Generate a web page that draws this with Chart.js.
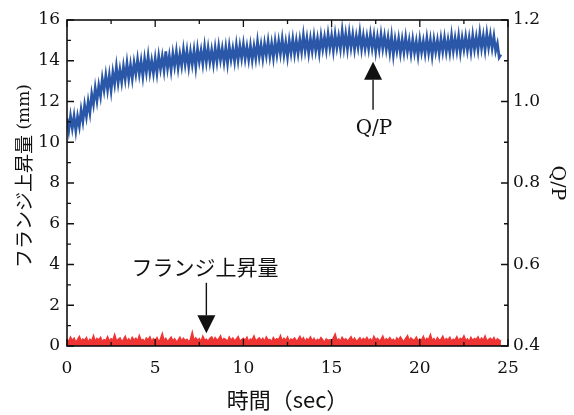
<!DOCTYPE html>
<html lang="ja">
<head>
<meta charset="UTF-8">
<title>フランジ上昇量 と Q/P</title>
<script src="https://cdn.jsdelivr.net/npm/chart.js"></script>
<style>
  html, body { margin: 0; padding: 0; background: #fff; }
  #wrap { width: 574px; height: 415px; }
</style>
</head>
<body>
<div id="wrap"><canvas id="chart" width="574" height="415"></canvas></div>
<script>
// sampled every 0.1 s from 0 to 24.6 s
const sampleStep = 0.1;

// Q/P (right axis)
const blueQP = [
  0.959, 0.929, 0.964, 0.934, 0.964, 0.928, 0.963, 0.939, 0.979, 0.951,
  0.991, 0.963, 1.000, 0.972, 1.018, 0.993, 1.033, 1.002, 1.039, 1.013,
  1.056, 1.028, 1.064, 1.029, 1.064, 1.027, 1.071, 1.043, 1.085, 1.046,
  1.078, 1.048, 1.086, 1.055, 1.094, 1.056, 1.090, 1.056, 1.095, 1.068,
  1.103, 1.068, 1.099, 1.062, 1.104, 1.072, 1.111, 1.071, 1.100, 1.069,
  1.105, 1.070, 1.111, 1.080, 1.110, 1.077, 1.123, 1.082, 1.112, 1.077,
  1.117, 1.087, 1.122, 1.083, 1.116, 1.088, 1.127, 1.092, 1.124, 1.086,
  1.122, 1.091, 1.125, 1.085, 1.129, 1.098, 1.125, 1.093, 1.134, 1.097,
  1.131, 1.097, 1.126, 1.093, 1.131, 1.098, 1.135, 1.102, 1.130, 1.097,
  1.132, 1.094, 1.135, 1.103, 1.130, 1.099, 1.138, 1.102, 1.136, 1.106,
  1.140, 1.105, 1.134, 1.103, 1.137, 1.102, 1.135, 1.106, 1.147, 1.110,
  1.139, 1.106, 1.142, 1.113, 1.147, 1.111, 1.142, 1.108, 1.147, 1.115,
  1.148, 1.117, 1.153, 1.115, 1.145, 1.110, 1.149, 1.119, 1.153, 1.117,
  1.149, 1.118, 1.152, 1.122, 1.162, 1.125, 1.155, 1.119, 1.154, 1.124,
  1.159, 1.125, 1.154, 1.120, 1.160, 1.129, 1.158, 1.127, 1.165, 1.132,
  1.161, 1.125, 1.164, 1.132, 1.160, 1.130, 1.173, 1.132, 1.165, 1.129,
  1.168, 1.133, 1.164, 1.128, 1.160, 1.133, 1.169, 1.129, 1.161, 1.130,
  1.159, 1.129, 1.164, 1.131, 1.161, 1.123, 1.158, 1.128, 1.164, 1.130,
  1.160, 1.128, 1.157, 1.121, 1.159, 1.115, 1.152, 1.124, 1.154, 1.119,
  1.152, 1.121, 1.157, 1.123, 1.150, 1.117, 1.152, 1.120, 1.147, 1.113,
  1.152, 1.121, 1.148, 1.118, 1.155, 1.120, 1.151, 1.113, 1.151, 1.122,
  1.150, 1.118, 1.154, 1.123, 1.156, 1.122, 1.151, 1.121, 1.161, 1.124,
  1.155, 1.125, 1.160, 1.121, 1.156, 1.128, 1.159, 1.126, 1.156, 1.123,
  1.162, 1.128, 1.158, 1.127, 1.167, 1.131, 1.161, 1.127, 1.166, 1.133,
  1.163, 1.131, 1.160, 1.124, 1.142, 1.108, 1.115
];

// フランジ上昇量 (mm, left axis)
const flangeMM = [
  0.32, 0.18, 0.41, 0.25, 0.36, 0.15, 0.29, 0.44, 0.21, 0.33,
  0.27, 0.39, 0.16, 0.31, 0.22, 0.47, 0.19, 0.35, 0.28, 0.40,
  0.17, 0.30, 0.24, 0.43, 0.20, 0.34, 0.26, 0.52, 0.23, 0.31,
  0.38, 0.19, 0.29, 0.45, 0.22, 0.33, 0.18, 0.40, 0.27, 0.36,
  0.21, 0.48, 0.25, 0.30, 0.16, 0.37, 0.28, 0.42, 0.20, 0.34,
  0.26, 0.39, 0.18, 0.32, 0.57, 0.23, 0.35, 0.19, 0.30, 0.41,
  0.24, 0.33, 0.17, 0.28, 0.40, 0.21, 0.36, 0.25, 0.31, 0.19,
  0.29, 0.62, 0.22, 0.38, 0.26, 0.34, 0.18, 0.45, 0.27, 0.32,
  0.20, 0.36, 0.43, 0.24, 0.39, 0.28, 0.33, 0.47, 0.22, 0.35,
  0.30, 0.19, 0.41, 0.26, 0.37, 0.23, 0.32, 0.44, 0.21, 0.29,
  0.36, 0.25, 0.40, 0.18, 0.33, 0.28, 0.46, 0.22, 0.31, 0.38,
  0.24, 0.35, 0.20, 0.42, 0.27, 0.31, 0.17, 0.39, 0.26, 0.34,
  0.29, 0.48, 0.21, 0.36, 0.25, 0.41, 0.19, 0.33, 0.28, 0.37,
  0.22, 0.30, 0.45, 0.26, 0.38, 0.18, 0.34, 0.27, 0.42, 0.23,
  0.35, 0.20, 0.31, 0.24, 0.39, 0.28, 0.16, 0.33, 0.26, 0.30,
  0.19, 0.37, 0.55, 0.25, 0.32, 0.21, 0.40, 0.27, 0.34, 0.23,
  0.31, 0.43, 0.24, 0.36, 0.20, 0.29, 0.38, 0.22, 0.35, 0.27,
  0.40, 0.25, 0.33, 0.19, 0.44, 0.28, 0.36, 0.23, 0.30, 0.46,
  0.21, 0.34, 0.27, 0.39, 0.24, 0.31, 0.18, 0.37, 0.26, 0.42,
  0.29, 0.20, 0.35, 0.48, 0.23, 0.38, 0.30, 0.25, 0.41, 0.22,
  0.33, 0.27, 0.44, 0.21, 0.36, 0.29, 0.52, 0.24, 0.34, 0.19,
  0.38, 0.26, 0.31, 0.45, 0.22, 0.35, 0.28, 0.40, 0.20, 0.32,
  0.27, 0.43, 0.23, 0.36, 0.30, 0.47, 0.25, 0.33, 0.19, 0.39,
  0.24, 0.35, 0.29, 0.42, 0.21, 0.37, 0.26, 0.46, 0.22, 0.31,
  0.36, 0.25, 0.39, 0.20, 0.34, 0.28, 0.23
];

const time = blueQP.map((_, i) => +(i * sampleStep).toFixed(1));

// axis ranges / ticks
const xTicks = [0, 25, 5, 2.5];        // min, max, major, minor
const yLeftTicks = [0, 16, 2, 1];
const yRightTicks = [0.4, 1.2, 0.2, 0.1];

// annotation arrows, in data units (x: sec, y: mm on the left axis)
const notes = [
  { text: 'Q/P', font: '20px "DejaVu Serif"', tx: 17.4, ty: 10.65, ax: 17.35, from: 11.6, to: 13.95 },
  { text: 'フランジ上昇量', font: '21px "Noto Sans CJK JP"', tx: 7.82, ty: 3.9, ax: 7.9, from: 3.1, to: 0.62 }
];

const tickFont = { family: 'DejaVu Serif', size: 17 };
const ink = '#111';

const framePlugin = {
  id: 'frame',
  afterDraw(chart) {
    const { ctx, chartArea: a, scales } = chart;
    const x = scales.x, yl = scales.y, yr = scales.y2;
    ctx.save();
    ctx.strokeStyle = ink;
    ctx.lineWidth = 1.6;
    ctx.strokeRect(a.left, a.top, a.right - a.left, a.bottom - a.top);

    ctx.lineWidth = 1.3;
    ctx.beginPath();
    // x ticks, bottom and top, pointing in
    for (let v = xTicks[0]; v <= xTicks[1] + 1e-9; v += xTicks[3]) {
      const px = x.getPixelForValue(v);
      const len = Math.abs(v / xTicks[2] - Math.round(v / xTicks[2])) < 1e-6 ? 7 : 4;
      ctx.moveTo(px, a.bottom); ctx.lineTo(px, a.bottom - len);
      ctx.moveTo(px, a.top); ctx.lineTo(px, a.top + len);
    }
    for (let v = yLeftTicks[0]; v <= yLeftTicks[1] + 1e-9; v += yLeftTicks[3]) {
      const py = yl.getPixelForValue(v);
      const len = Math.abs(v / yLeftTicks[2] - Math.round(v / yLeftTicks[2])) < 1e-6 ? 7 : 4;
      ctx.moveTo(a.left, py); ctx.lineTo(a.left + len, py);
    }
    for (let k = 0; k <= 8; k++) {
      const v = yRightTicks[0] + k * yRightTicks[3];
      const py = yr.getPixelForValue(v);
      const len = k % 2 === 0 ? 7 : 4;
      ctx.moveTo(a.right, py); ctx.lineTo(a.right - len, py);
    }
    ctx.stroke();

    // arrows + labels
    ctx.fillStyle = ink;
    ctx.lineWidth = 1.4;
    notes.forEach(n => {
      const ax = x.getPixelForValue(n.ax);
      const y0 = yl.getPixelForValue(n.from);
      const y1 = yl.getPixelForValue(n.to);
      const dir = y1 < y0 ? 1 : -1;
      const head = 18, half = 9;
      ctx.beginPath();
      ctx.moveTo(ax, y0);
      ctx.lineTo(ax, y1 + dir * head);
      ctx.stroke();
      ctx.beginPath();
      ctx.moveTo(ax, y1);
      ctx.lineTo(ax - half, y1 + dir * head);
      ctx.lineTo(ax + half, y1 + dir * head);
      ctx.closePath();
      ctx.fill();
      ctx.font = n.font;
      ctx.textAlign = 'center';
      ctx.textBaseline = 'middle';
      ctx.fillText(n.text, x.getPixelForValue(n.tx), yl.getPixelForValue(n.ty));
    });

    // left axis title, two fonts
    const jp = 'フランジ上昇量', unit = ' (mm)';
    ctx.translate(24, 176);
    ctx.rotate(-Math.PI / 2);
    ctx.textBaseline = 'middle';
    ctx.textAlign = 'left';
    ctx.font = '19px "Noto Sans CJK JP"';
    const w1 = ctx.measureText(jp).width;
    ctx.font = '17px "DejaVu Serif"';
    const w2 = ctx.measureText(unit).width;
    let sx = -(w1 + w2) / 2;
    ctx.font = '19px "Noto Sans CJK JP"';
    ctx.fillText(jp, sx, 0);
    ctx.font = '17px "DejaVu Serif"';
    ctx.fillText(unit, sx + w1, 1);
    ctx.restore();
  }
};

new Chart(document.getElementById('chart'), {
  type: 'line',
  data: {
    datasets: [
      {
        label: 'Q/P',
        data: blueQP.map((v, i) => ({ x: time[i], y: v })),
        yAxisID: 'y2',
        borderColor: '#2a57a8',
        borderWidth: 2.7,
        borderJoinStyle: 'miter',
        pointRadius: 0,
        tension: 0
      },
      {
        label: 'フランジ上昇量',
        data: flangeMM.map((v, i) => ({ x: time[i], y: v })),
        yAxisID: 'y',
        borderColor: '#ef3434',
        backgroundColor: '#ef3434',
        borderWidth: 2,
        fill: 'origin',
        pointRadius: 0,
        tension: 0
      }
    ]
  },
  options: {
    responsive: false,
    animation: false,
    events: [],
    layout: { padding: { top: 20, left: 0, right: 0, bottom: 0 } },
    plugins: { legend: { display: false }, tooltip: { enabled: false } },
    scales: {
      x: {
        type: 'linear',
        min: xTicks[0], max: xTicks[1],
        afterFit: s => { s.height = 69; },
        grid: { display: false, drawTicks: false },
        border: { display: false },
        ticks: { stepSize: xTicks[2], padding: 12, color: ink, font: tickFont, maxRotation: 0 },
        title: { display: true, text: '時間（sec）', color: ink, font: { family: 'Noto Sans CJK JP', size: 22 }, padding: { top: 0, bottom: 2 } }
      },
      y: {
        position: 'left',
        min: yLeftTicks[0], max: yLeftTicks[1],
        afterFit: s => { s.width = 67; },
        grid: { display: false, drawTicks: false },
        border: { display: false },
        ticks: { stepSize: yLeftTicks[2], padding: 7, color: ink, font: tickFont }
      },
      y2: {
        position: 'right',
        min: yRightTicks[0], max: yRightTicks[1],
        afterFit: s => { s.width = 66; },
        grid: { display: false, drawTicks: false },
        border: { display: false },
        ticks: { stepSize: yRightTicks[2], padding: 5, color: ink, font: tickFont, callback: v => Number(v).toFixed(1) },
        title: { display: true, text: 'Q/P', color: ink, font: { family: 'DejaVu Serif', size: 19 }, padding: { top: 6, bottom: 0 } }
      }
    }
  },
  plugins: [framePlugin]
});
</script>
</body>
</html>
